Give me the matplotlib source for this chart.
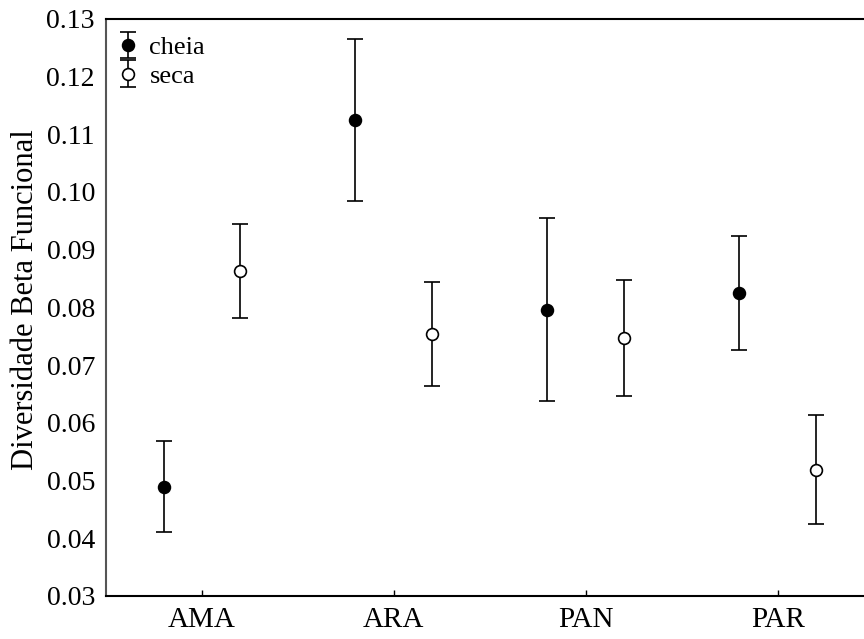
import matplotlib
matplotlib.use("Agg")
import matplotlib.pyplot as plt
import numpy as np

# values
sites = ["AMA", "ARA", "PAN", "PAR"]
cheia_mean = [0.0489, 0.1124, 0.0796, 0.0825]
cheia_low = [0.0411, 0.0984, 0.0638, 0.0726]
cheia_high = [0.0568, 0.1264, 0.0954, 0.0923]
seca_mean = [0.0863, 0.0754, 0.0747, 0.0518]
seca_low = [0.0781, 0.0664, 0.0646, 0.0424]
seca_high = [0.0945, 0.0843, 0.0848, 0.0613]

plt.rcParams["font.family"] = ["Liberation Serif", "DejaVu Serif"]

fig = plt.figure(figsize=(8.64, 6.39), dpi=100)
ax = fig.add_axes([0.1227, 0.0673, 0.8773, 0.9037])

x = np.arange(len(sites))
offset = 0.2


def draw_series(pos, mean, low, high, face, label):
    mean = np.array(mean)
    err = [mean - np.array(low), np.array(high) - mean]
    ax.errorbar(
        pos, mean, yerr=err, fmt="o", color="black", ecolor="black",
        markerfacecolor=face, markeredgecolor="black", markersize=8.5,
        markeredgewidth=1.2, elinewidth=1.2, capsize=5.5, capthick=1.2,
        label=label,
    )


draw_series(x - offset, cheia_mean, cheia_low, cheia_high, "black", "cheia")
draw_series(x + offset, seca_mean, seca_low, seca_high, "white", "seca")

ax.set_xlim(-0.5, 3.45)
ax.set_ylim(0.03, 0.13)
ax.set_xticks(x)
ax.set_xticklabels(sites, fontsize=21)
ticks = np.arange(0.03, 0.1301, 0.01)
ax.set_yticks(ticks)
ax.set_yticklabels([f"{v:.2f}" for v in ticks], fontsize=20)
ax.tick_params(axis="x", direction="in", length=4, width=1, pad=8)
ax.tick_params(axis="y", length=0, pad=8)
ax.set_ylabel("Diversidade Beta Funcional", fontsize=22)
ax.yaxis.set_label_coords(-0.087, 0.514)

ax.spines["right"].set_visible(False)
ax.spines["left"].set_color("#555555")
ax.spines["left"].set_linewidth(1.5)
ax.spines["top"].set_linewidth(1.5)
ax.spines["bottom"].set_linewidth(1.5)

ax.legend(
    loc="upper left", bbox_to_anchor=(0.005, 0.984), frameon=False,
    fontsize=19, handlelength=0.8, handletextpad=0.4, labelspacing=0.2,
    borderaxespad=0.0, borderpad=0.3,
)

fig.savefig("out.png", dpi=100)
